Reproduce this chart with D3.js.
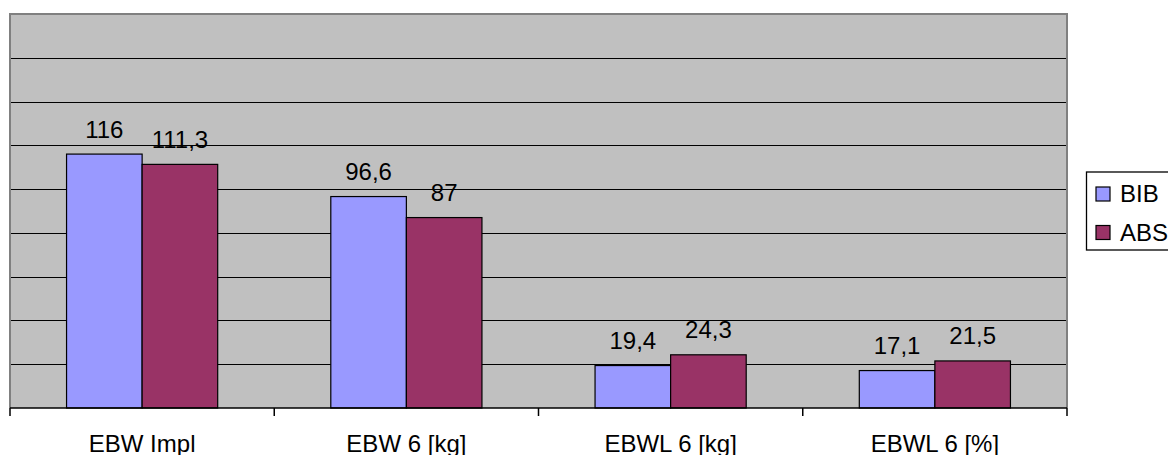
<!DOCTYPE html>
<html><head><meta charset="utf-8">
<script src="https://cdn.jsdelivr.net/npm/d3@7"></script>
<style>
html,body{margin:0;padding:0;background:#fff;}
svg{display:block;font-family:"Liberation Sans",Arial,sans-serif;}
</style></head>
<body><svg id="c" width="1168" height="455"></svg>
<script>
const categories = ["EBW Impl", "EBW 6 [kg]", "EBWL 6 [kg]", "EBWL 6 [%]"];
const seriesNames = ["BIB", "ABS"];
const bibValues = [116, 96.6, 19.4, 17.1];
const absValues = [111.3, 87, 24.3, 21.5];
const seriesColors = ["#9999FF", "#993366"];
const yTicks = [0, 20, 40, 60, 80, 100, 120, 140, 160, 180];

const svg = d3.select("#c");
const L = 10, R = 1067, T = 14, B = 408;
const fs = 24;

const x = d3.scaleBand().domain(categories).range([L, R]).padding(0);
const bw = x.bandwidth();
const gw = bw * 0.572;
const x1 = d3.scaleBand().domain(seriesNames).range([(bw - gw) / 2, (bw + gw) / 2]).padding(0);
const y = d3.scaleLinear().domain([0, 180]).range([B, T]);

// plot background
svg.append("rect").attr("x", L).attr("y", T).attr("width", R - L).attr("height", B - T).attr("fill", "#C0C0C0");

// gridlines
svg.append("g").selectAll("line").data(yTicks.filter(v => v > 0 && v < 180)).join("line")
  .attr("x1", L).attr("x2", R).attr("y1", d => Math.round(y(d)) + 0.5).attr("y2", d => Math.round(y(d)) + 0.5)
  .attr("stroke", "#000").attr("stroke-width", 1);

// plot border (left, top, right) gray
svg.append("path").attr("d", `M${L},${B}V${T}H${R}V${B}`).attr("fill", "none").attr("stroke", "#808080").attr("stroke-width", 2);

const rows = categories.map((c, i) => ({ c, vals: [bibValues[i], absValues[i]] }));

const g = svg.append("g").selectAll("g").data(rows).join("g").attr("transform", d => `translate(${x(d.c)},0)`);
g.selectAll("rect").data(d => d.vals.map((v, j) => ({ s: seriesNames[j], v, j }))).join("rect")
  .attr("x", d => x1(d.s)).attr("width", x1.bandwidth())
  .attr("y", d => y(d.v)).attr("height", d => B - y(d.v))
  .attr("fill", d => seriesColors[d.j]).attr("stroke", "#000").attr("stroke-width", 1.2);
g.selectAll("text").data(d => d.vals.map((v, j) => ({ s: seriesNames[j], v, j }))).join("text")
  .attr("x", d => x1(d.s) + x1.bandwidth() / 2).attr("y", d => y(d.v) - 16.5)
  .attr("text-anchor", "middle").attr("font-size", fs).attr("fill", "#000")
  .text(d => String(d.v).replace(".", ","));

// x axis
const ax = svg.append("g").attr("transform", `translate(0,${B})`)
  .call(d3.axisBottom(x).tickSize(0).tickPadding(27));
ax.select(".domain").attr("stroke", "#000").attr("stroke-width", 1.5).attr("d", `M${L},0H${R}`);
ax.selectAll("text").attr("font-size", fs).attr("font-family", "Liberation Sans, Arial, sans-serif").attr("fill", "#000");
const bounds = categories.map(c => x(c)).concat([R]);
ax.selectAll(".bt").data(bounds).join("line").attr("class", "bt")
  .attr("x1", d => d).attr("x2", d => d).attr("y1", 0).attr("y2", 8).attr("stroke", "#000").attr("stroke-width", 1.5);

// legend
const lg = svg.append("g");
lg.append("rect").attr("x", 1086.5).attr("y", 172).attr("width", 100).attr("height", 78)
  .attr("fill", "#fff").attr("stroke", "#000").attr("stroke-width", 1.3);
seriesNames.forEach((s, i) => {
  const yy = 187 + i * 38.5;
  lg.append("rect").attr("x", 1096).attr("y", yy).attr("width", 14).attr("height", 14)
    .attr("fill", seriesColors[i]).attr("stroke", "#000").attr("stroke-width", 1.2);
  lg.append("text").attr("x", 1120).attr("y", yy + 15).attr("font-size", fs).attr("fill", "#000").text(s);
});
</script></body></html>
